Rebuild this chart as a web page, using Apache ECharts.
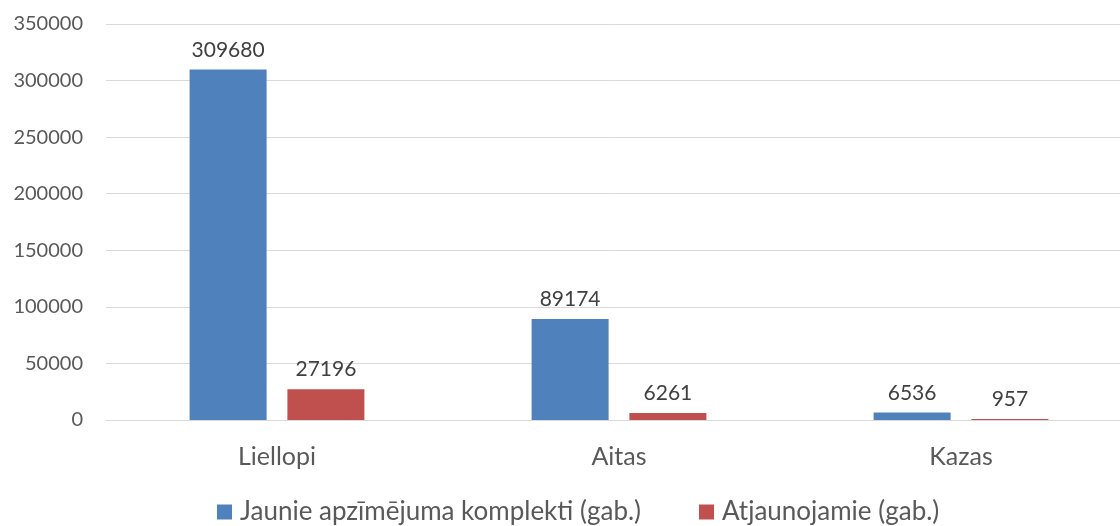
<!DOCTYPE html>
<html>
<head>
<meta charset="utf-8">
<script src="https://cdn.jsdelivr.net/npm/echarts@6/dist/echarts.min.js"></script>
<style>
  html, body { margin: 0; padding: 0; background: #fff; }
  #chart { width: 1120px; height: 526px; }
</style>
</head>
<body>
<div id="chart"></div>
<script>
const categories = ['Liellopi', 'Aitas', 'Kazas']
const newSets = [309680, 89174, 6536]
const renewed = [27196, 6261, 957]
const seriesNames = ['Jaunie apzīmējuma komplekti (gab.)', 'Atjaunojamie (gab.)']

const textColor = '#595959'
const font = 'Lato, Carlito, Calibri, sans-serif'

const chart = echarts.init(document.getElementById('chart'))
chart.setOption({
  animation: false,
  textStyle: { fontFamily: font },
  grid: { left: 106, width: 1026, top: 24, height: 396, outerBoundsMode: 'none', containLabel: false },
  legend: {
    top: 494,
    left: 212,
    itemWidth: 15,
    itemHeight: 15,
    itemGap: 58,
    icon: 'rect',
    textStyle: { color: textColor, fontSize: 26, fontFamily: font, padding: [0, 0, 0, 3] },
    data: seriesNames
  },
  xAxis: {
    type: 'category',
    data: categories,
    axisTick: { show: false },
    axisLine: { lineStyle: { color: '#d9d9d9', width: 1 } },
    axisLabel: { color: textColor, fontSize: 25, margin: 24, fontFamily: font }
  },
  yAxis: {
    type: 'value',
    min: 0,
    max: 350000,
    interval: 50000,
    axisLine: { show: false },
    axisTick: { show: false },
    splitLine: { lineStyle: { color: '#d9d9d9', width: 1 } },
    axisLabel: { color: textColor, fontSize: 20, margin: 23, fontFamily: font, formatter: v => String(v) }
  },
  series: [
    {
      name: seriesNames[0],
      type: 'bar',
      data: newSets,
      barWidth: 77,
      barGap: '27%',
      itemStyle: { color: '#4F81BD' },
      label: { show: true, position: 'top', distance: 9, color: '#404040', fontSize: 21, fontFamily: font }
    },
    {
      name: seriesNames[1],
      type: 'bar',
      data: renewed,
      barWidth: 77,
      barGap: '27%',
      itemStyle: { color: '#C0504D' },
      label: { show: true, position: 'top', distance: 9, color: '#404040', fontSize: 21, fontFamily: font }
    }
  ]
})
</script>
</body>
</html>
